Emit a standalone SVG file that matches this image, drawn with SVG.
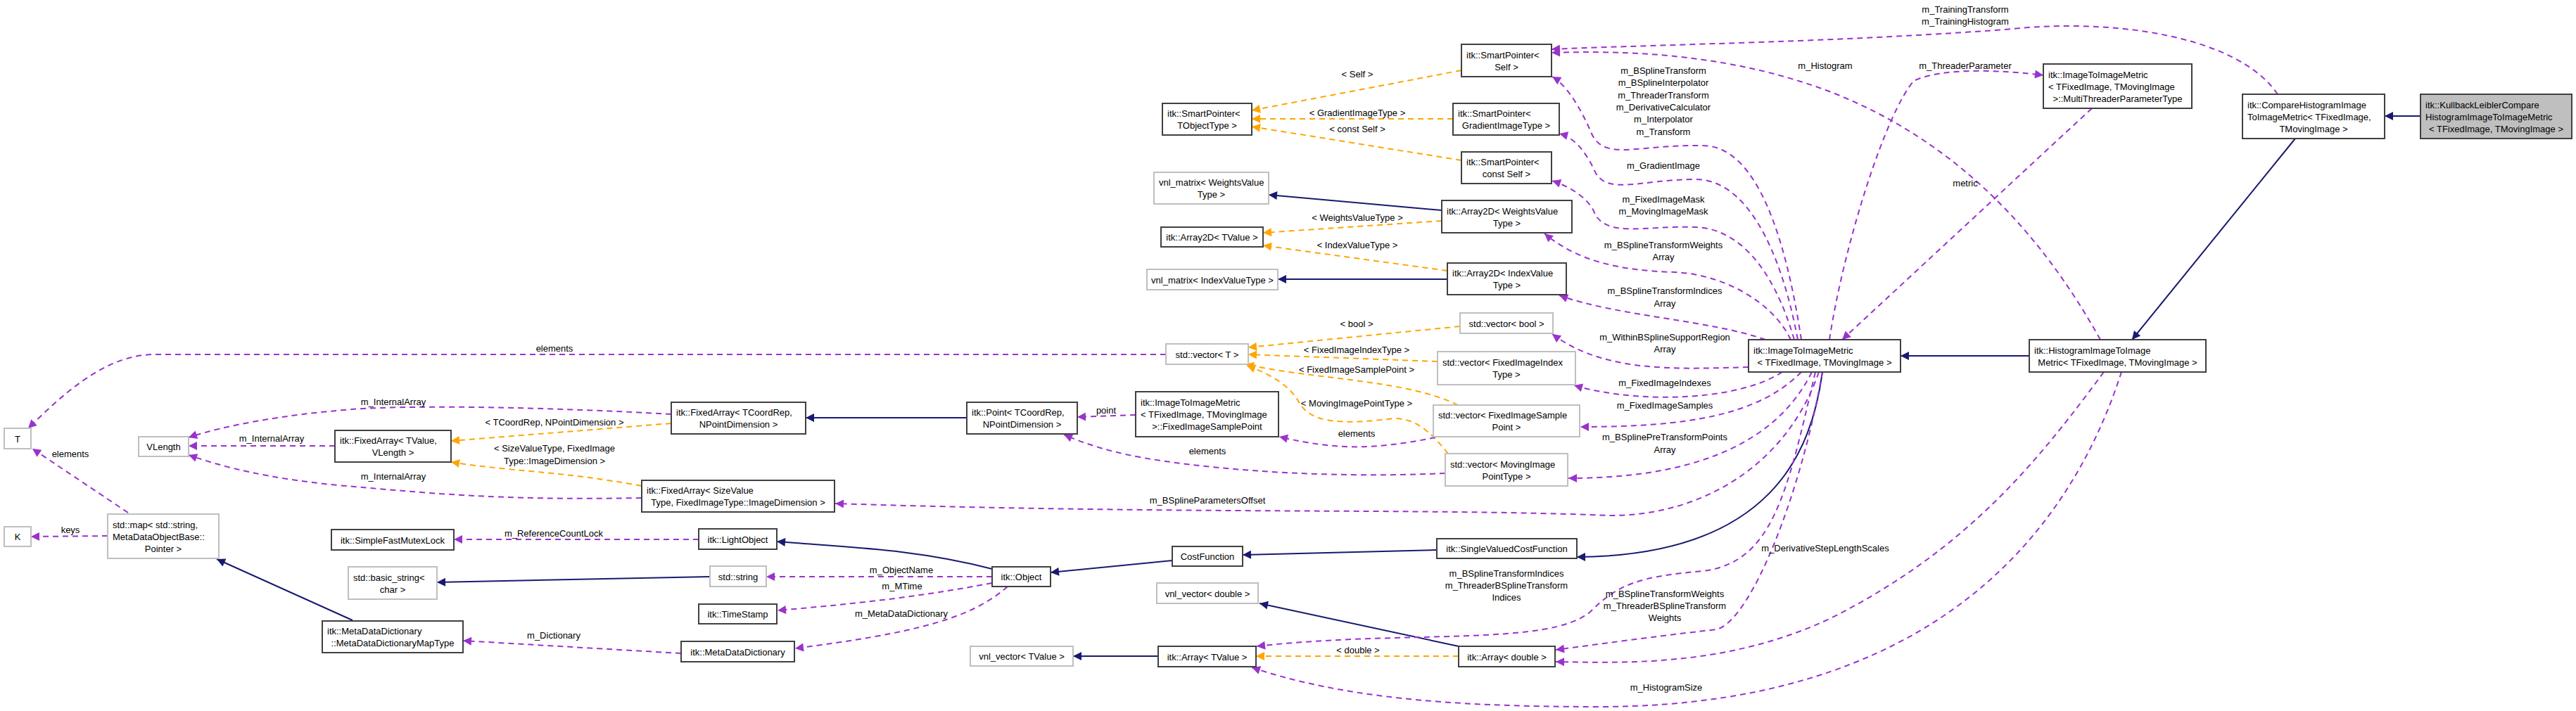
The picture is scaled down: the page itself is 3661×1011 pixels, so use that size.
<svg xmlns="http://www.w3.org/2000/svg" width="3661" height="1011" viewBox="0 0 3661 1011">
<style>
text{font-family:"Liberation Sans",Arial,sans-serif;font-size:13px;fill:#000}
.m{text-anchor:middle}
.n rect{fill:#fff;stroke:#404040;stroke-width:2}
.g rect{fill:#fff;stroke:#bfbfbf;stroke-width:2}
.h rect{fill:#bfbfbf;stroke:#404040;stroke-width:2}
.i{fill:none;stroke:#191970;stroke-width:2}
.u{fill:none;stroke:#9a32cd;stroke-width:2;stroke-dasharray:8,6}
.t{fill:none;stroke:#ffa500;stroke-width:2;stroke-dasharray:8,6}
</style>
<defs>
<marker id="ai" viewBox="0 0 10 10" refX="10" refY="5" markerWidth="14" markerHeight="12" markerUnits="userSpaceOnUse" orient="auto"><path d="M0,0L10,5L0,10z" fill="#191970"/></marker>
<marker id="au" viewBox="0 0 10 10" refX="10" refY="5" markerWidth="14" markerHeight="12" markerUnits="userSpaceOnUse" orient="auto"><path d="M0,0L10,5L0,10z" fill="#9a32cd"/></marker>
<marker id="at" viewBox="0 0 10 10" refX="10" refY="5" markerWidth="14" markerHeight="12" markerUnits="userSpaceOnUse" orient="auto"><path d="M0,0L10,5L0,10z" fill="#ffa500"/></marker>
</defs>
<rect width="3661" height="1011" fill="#fff"/>
<g id="edges">
<path class="i" marker-end="url(#ai)" d="M3440,165L3389,165"/>
<path class="i" marker-end="url(#ai)" d="M3262,197L3030,483"/>
<path class="i" marker-end="url(#ai)" d="M2884,506L2701,506"/>
<path class="i" marker-end="url(#ai)" d="M2590,529C2575,640 2520,790 2241,792"/>
<path class="i" marker-end="url(#ai)" d="M2042,782L1766,789"/>
<path class="i" marker-end="url(#ai)" d="M1666,797L1493,814"/>
<path class="i" marker-end="url(#ai)" d="M1410,809C1300,780 1200,778 1104,770"/>
<path class="i" marker-end="url(#ai)" d="M1009,820L621,828"/>
<path class="i" marker-end="url(#ai)" d="M501,882L308,795"/>
<path class="i" marker-end="url(#ai)" d="M1374,594L1145,594"/>
<path class="i" marker-end="url(#ai)" d="M2049,299L1803,277"/>
<path class="i" marker-end="url(#ai)" d="M2057,397L1816,397"/>
<path class="i" marker-end="url(#ai)" d="M2073,919L1790,858"/>
<path class="i" marker-end="url(#ai)" d="M1646,933L1525,933"/>
<path class="t" marker-end="url(#at)" d="M2077,100L1779,157"/>
<path class="t" marker-end="url(#at)" d="M2065,169L1779,169"/>
<path class="t" marker-end="url(#at)" d="M2077,228L1779,180"/>
<path class="t" marker-end="url(#at)" d="M2049,314L1795,331"/>
<path class="t" marker-end="url(#at)" d="M2057,385L1795,349"/>
<path class="t" marker-end="url(#at)" d="M2075,464L1774,494"/>
<path class="t" marker-end="url(#at)" d="M2043,514L1774,504"/>
<path class="t" marker-end="url(#at)" d="M2072,576C2000,540 1870,540 1770,518"/>
<path class="t" marker-end="url(#at)" d="M2058,645C2030,610 2010,595 1980,595C1900,605 1860,600 1845,570C1830,545 1800,530 1772,520"/>
<path class="t" marker-end="url(#at)" d="M954,602L641,627"/>
<path class="t" marker-end="url(#at)" d="M912,691C800,670 720,670 641,657"/>
<path class="t" marker-end="url(#at)" d="M2073,933L1785,933"/>
<path class="u" marker-end="url(#au)" d="M3237,134C3180,50 3000,25 2850,42C2600,60 2400,62 2205,70"/>
<path class="u" marker-end="url(#au)" d="M2985,483C2900,330 2780,200 2600,130C2480,85 2350,70 2205,75"/>
<path class="u" marker-end="url(#au)" d="M2560,483C2540,350 2500,207 2420,207C2330,205 2280,230 2262,190C2245,150 2225,120 2206,109"/>
<path class="u" marker-end="url(#au)" d="M2555,483C2530,350 2480,255 2410,255C2330,255 2280,280 2265,240C2250,210 2235,195 2216,190"/>
<path class="u" marker-end="url(#au)" d="M2550,483C2520,380 2470,325 2410,323C2340,320 2280,340 2265,300C2255,280 2230,265 2206,257"/>
<path class="u" marker-end="url(#au)" d="M2545,483C2520,430 2450,390 2380,387C2300,385 2240,370 2195,332"/>
<path class="u" marker-end="url(#au)" d="M2509,483C2430,455 2300,450 2216,420"/>
<path class="u" marker-end="url(#au)" d="M2485,522C2380,525 2280,530 2206,475"/>
<path class="u" marker-end="url(#au)" d="M2533,529C2470,570 2330,575 2237,548"/>
<path class="u" marker-end="url(#au)" d="M2560,529C2500,590 2400,607 2246,607"/>
<path class="u" marker-end="url(#au)" d="M2575,529C2520,640 2390,680 2229,680"/>
<path class="u" marker-end="url(#au)" d="M2585,529C2540,660 2420,733 2290,733C2000,722 1700,732 1187,716"/>
<path class="u" marker-end="url(#au)" d="M2580,529C2540,700 2520,800 2420,812C2330,820 2300,830 2260,870C2200,920 2000,895 1786,919"/>
<path class="u" marker-end="url(#au)" d="M2590,529C2560,700 2490,880 2440,895C2350,905 2280,915 2211,924"/>
<path class="u" marker-end="url(#au)" d="M2990,529C2900,650 2800,780 2600,880C2450,950 2300,942 2211,941"/>
<path class="u" marker-end="url(#au)" d="M3015,529C2960,700 2800,1005 2270,1005C2050,1005 1900,990 1779,949"/>
<path class="u" marker-end="url(#au)" d="M2973,154L2618,483"/>
<path class="u" marker-end="url(#au)" d="M2600,483C2620,350 2680,160 2720,115C2760,95 2850,100 2904,107"/>
<path class="u" marker-end="url(#au)" d="M1657,504L220,504C150,504 90,560 40,609"/>
<path class="u" marker-end="url(#au)" d="M182,729L46,638"/>
<path class="u" marker-end="url(#au)" d="M153,762L44,763"/>
<path class="u" marker-end="url(#au)" d="M954,589C800,580 600,575 500,582C400,590 320,605 268,622"/>
<path class="u" marker-end="url(#au)" d="M476,634L268,634"/>
<path class="u" marker-end="url(#au)" d="M912,708C700,712 600,700 480,690C380,680 320,665 268,647"/>
<path class="u" marker-end="url(#au)" d="M993,767L645,767"/>
<path class="u" marker-end="url(#au)" d="M1410,820L1089,820"/>
<path class="u" marker-end="url(#au)" d="M1410,829C1300,850 1200,860 1105,868"/>
<path class="u" marker-end="url(#au)" d="M1432,834C1380,880 1300,900 1130,922"/>
<path class="u" marker-end="url(#au)" d="M968,929L658,911"/>
<path class="u" marker-end="url(#au)" d="M1614,590L1531,593"/>
<path class="u" marker-end="url(#au)" d="M2040,622C1950,640 1900,640 1818,621"/>
<path class="u" marker-end="url(#au)" d="M2054,673C1900,680 1750,670 1650,655C1580,645 1540,630 1512,618"/>
<text class="m" x="2793" y="18">m_TrainingTransform</text>
<text class="m" x="2793" y="35">m_TrainingHistogram</text>
<text class="m" x="2594" y="98">m_Histogram</text>
<text class="m" x="2793" y="98">m_ThreaderParameter</text>
<text class="m" x="2793" y="265">metric</text>
<text class="m" x="1929" y="110">&lt; Self &gt;</text>
<text class="m" x="1929" y="165">&lt; GradientImageType &gt;</text>
<text class="m" x="1929" y="188">&lt; const Self &gt;</text>
<text class="m" x="1929" y="314">&lt; WeightsValueType &gt;</text>
<text class="m" x="1929" y="353">&lt; IndexValueType &gt;</text>
<text class="m" x="2364" y="105">m_BSplineTransform</text>
<text class="m" x="2364" y="122">m_BSplineInterpolator</text>
<text class="m" x="2364" y="140">m_ThreaderTransform</text>
<text class="m" x="2364" y="157">m_DerivativeCalculator</text>
<text class="m" x="2364" y="174">m_Interpolator</text>
<text class="m" x="2364" y="192">m_Transform</text>
<text class="m" x="2364" y="240">m_GradientImage</text>
<text class="m" x="2364" y="288">m_FixedImageMask</text>
<text class="m" x="2364" y="305">m_MovingImageMask</text>
<text class="m" x="2364" y="353">m_BSplineTransformWeights</text>
<text class="m" x="2364" y="370">Array</text>
<text class="m" x="2366" y="418">m_BSplineTransformIndices</text>
<text class="m" x="2366" y="436">Array</text>
<text class="m" x="2366" y="484">m_WithinBSplineSupportRegion</text>
<text class="m" x="2366" y="501">Array</text>
<text class="m" x="2366" y="549">m_FixedImageIndexes</text>
<text class="m" x="2366" y="581">m_FixedImageSamples</text>
<text class="m" x="2366" y="626">m_BSplinePreTransformPoints</text>
<text class="m" x="2366" y="644">Array</text>
<text class="m" x="1928" y="465">&lt; bool &gt;</text>
<text class="m" x="1928" y="502">&lt; FixedImageIndexType &gt;</text>
<text class="m" x="1928" y="530">&lt; FixedImageSamplePoint &gt;</text>
<text class="m" x="1928" y="578">&lt; MovingImagePointType &gt;</text>
<text class="m" x="1928" y="621">elements</text>
<text class="m" x="1716" y="646">elements</text>
<text class="m" x="1572" y="588">point</text>
<text class="m" x="1716" y="716">m_BSplineParametersOffset</text>
<text class="m" x="788" y="500">elements</text>
<text class="m" x="788" y="605">&lt; TCoordRep, NPointDimension &gt;</text>
<text class="m" x="788" y="642">&lt; SizeValueType, FixedImage</text>
<text class="m" x="788" y="660">Type::ImageDimension &gt;</text>
<text class="m" x="559" y="576">m_InternalArray</text>
<text class="m" x="386" y="628">m_InternalArray</text>
<text class="m" x="559" y="682">m_InternalArray</text>
<text class="m" x="100" y="650">elements</text>
<text class="m" x="100" y="758">keys</text>
<text class="m" x="787" y="763">m_ReferenceCountLock</text>
<text class="m" x="787" y="908">m_Dictionary</text>
<text class="m" x="1281" y="815">m_ObjectName</text>
<text class="m" x="1282" y="838">m_MTime</text>
<text class="m" x="1281" y="877">m_MetaDataDictionary</text>
<text class="m" x="2594" y="784">m_DerivativeStepLengthScales</text>
<text class="m" x="2141" y="820">m_BSplineTransformIndices</text>
<text class="m" x="2141" y="837">m_ThreaderBSplineTransform</text>
<text class="m" x="2141" y="854">Indices</text>
<text class="m" x="2366" y="849">m_BSplineTransformWeights</text>
<text class="m" x="2366" y="866">m_ThreaderBSplineTransform</text>
<text class="m" x="2366" y="883">Weights</text>
<text class="m" x="1930" y="929">&lt; double &gt;</text>
<text class="m" x="2368" y="982">m_HistogramSize</text>
</g>
<g id="T" class="g"><rect x="6" y="609" width="38" height="29"/><text class="m" x="25" y="628.5">T</text></g>
<g id="K" class="g"><rect x="6" y="749" width="38" height="28"/><text class="m" x="25" y="768">K</text></g>
<g id="VLength" class="g"><rect x="197" y="621" width="71" height="28"/><text class="m" x="232.5" y="640">VLength</text></g>
<g id="FA_TValue" class="n"><rect x="476" y="612" width="165" height="45"/><text x="483" y="631">itk::FixedArray&lt; TValue,</text><text class="m" x="558.5" y="648">VLength &gt;</text></g>
<g id="FA_Coord" class="n"><rect x="954" y="572" width="191" height="45"/><text x="961" y="591">itk::FixedArray&lt; TCoordRep,</text><text class="m" x="1049.5" y="608">NPointDimension &gt;</text></g>
<g id="FA_Size" class="n"><rect x="912" y="683" width="274" height="45"/><text x="919" y="702">itk::FixedArray&lt; SizeValue</text><text class="m" x="1049" y="719">Type, FixedImageType::ImageDimension &gt;</text></g>
<g id="Point" class="n"><rect x="1374" y="572" width="157" height="45"/><text x="1381" y="591">itk::Point&lt; TCoordRep,</text><text class="m" x="1452.5" y="608">NPointDimension &gt;</text></g>
<g id="FISP" class="n"><rect x="1614" y="557" width="203" height="64"/><text x="1621" y="577">itk::ImageToImageMetric</text><text x="1621" y="594">&lt; TFixedImage, TMovingImage</text><text class="m" x="1715.5" y="611">&gt;::FixedImageSamplePoint</text></g>
<g id="vecT" class="g"><rect x="1657" y="489" width="117" height="29"/><text class="m" x="1715.5" y="508.5">std::vector&lt; T &gt;</text></g>
<g id="vecBool" class="g"><rect x="2075" y="445" width="132" height="29"/><text class="m" x="2141" y="464.5">std::vector&lt; bool &gt;</text></g>
<g id="vecFII" class="g"><rect x="2043" y="500" width="196" height="47"/><text x="2050" y="520">std::vector&lt; FixedImageIndex</text><text class="m" x="2141" y="537">Type &gt;</text></g>
<g id="vecFISP" class="g"><rect x="2037" y="576" width="208" height="45"/><text x="2044" y="595">std::vector&lt; FixedImageSample</text><text class="m" x="2141" y="612">Point &gt;</text></g>
<g id="vecMIP" class="g"><rect x="2054" y="645" width="174" height="46"/><text x="2061" y="664.5">std::vector&lt; MovingImage</text><text class="m" x="2141" y="681.5">PointType &gt;</text></g>
<g id="stdmap" class="g"><rect x="153" y="731" width="158" height="63"/><text x="160" y="750.5">std::map&lt; std::string,</text><text x="160" y="767.5">MetaDataObjectBase::</text><text class="m" x="232" y="784.5">Pointer &gt;</text></g>
<g id="Mutex" class="n"><rect x="471" y="753" width="174" height="29"/><text class="m" x="558" y="772.5">itk::SimpleFastMutexLock</text></g>
<g id="LightObject" class="n"><rect x="993" y="752" width="111" height="29"/><text class="m" x="1048.5" y="771.5">itk::LightObject</text></g>
<g id="basicstring" class="g"><rect x="495" y="806" width="126" height="46"/><text x="502" y="825.5">std::basic_string&lt;</text><text class="m" x="558" y="842.5">char &gt;</text></g>
<g id="stdstring" class="g"><rect x="1009" y="805" width="80" height="29"/><text class="m" x="1049" y="824.5">std::string</text></g>
<g id="TimeStamp" class="n"><rect x="993" y="859" width="111" height="28"/><text class="m" x="1048.5" y="878">itk::TimeStamp</text></g>
<g id="MapType" class="n"><rect x="458" y="883" width="200" height="45"/><text x="465" y="902">itk::MetaDataDictionary</text><text class="m" x="558" y="919">::MetaDataDictionaryMapType</text></g>
<g id="MDD" class="n"><rect x="968" y="912" width="161" height="29"/><text class="m" x="1048.5" y="931.5">itk::MetaDataDictionary</text></g>
<g id="Object" class="n"><rect x="1410" y="806" width="83" height="28"/><text class="m" x="1451.5" y="825">itk::Object</text></g>
<g id="CostFunction" class="n"><rect x="1666" y="777" width="100" height="28"/><text class="m" x="1716" y="796">CostFunction</text></g>
<g id="SVCF" class="n"><rect x="2042" y="766" width="199" height="28"/><text class="m" x="2141.5" y="785">itk::SingleValuedCostFunction</text></g>
<g id="vnlvecD" class="g"><rect x="1644" y="829" width="144" height="29"/><text class="m" x="1716" y="848.5">vnl_vector&lt; double &gt;</text></g>
<g id="vnlvecT" class="g"><rect x="1379" y="919" width="146" height="28"/><text class="m" x="1452" y="938">vnl_vector&lt; TValue &gt;</text></g>
<g id="ArrayT" class="n"><rect x="1646" y="919" width="139" height="29"/><text class="m" x="1715.5" y="938.5">itk::Array&lt; TValue &gt;</text></g>
<g id="ArrayD" class="n"><rect x="2073" y="919" width="137" height="29"/><text class="m" x="2141.5" y="938.5">itk::Array&lt; double &gt;</text></g>
<g id="SP_TObj" class="n"><rect x="1652" y="147" width="127" height="45"/><text x="1659" y="166">itk::SmartPointer&lt;</text><text class="m" x="1715.5" y="183">TObjectType &gt;</text></g>
<g id="SP_Self" class="n"><rect x="2077" y="63" width="128" height="46"/><text x="2084" y="82.5">itk::SmartPointer&lt;</text><text class="m" x="2141" y="99.5">Self &gt;</text></g>
<g id="SP_Grad" class="n"><rect x="2065" y="147" width="151" height="45"/><text x="2072" y="166">itk::SmartPointer&lt;</text><text class="m" x="2140.5" y="183">GradientImageType &gt;</text></g>
<g id="SP_const" class="n"><rect x="2077" y="216" width="128" height="45"/><text x="2084" y="235">itk::SmartPointer&lt;</text><text class="m" x="2141" y="252">const Self &gt;</text></g>
<g id="vnlmW" class="g"><rect x="1640" y="245" width="163" height="45"/><text x="1647" y="264">vnl_matrix&lt; WeightsValue</text><text class="m" x="1721.5" y="281">Type &gt;</text></g>
<g id="A2D_T" class="n"><rect x="1650" y="323" width="145" height="28"/><text class="m" x="1722.5" y="342">itk::Array2D&lt; TValue &gt;</text></g>
<g id="A2D_W" class="n"><rect x="2049" y="285" width="185" height="46"/><text x="2056" y="304.5">itk::Array2D&lt; WeightsValue</text><text class="m" x="2141.5" y="321.5">Type &gt;</text></g>
<g id="vnlmI" class="g"><rect x="1630" y="383" width="186" height="29"/><text class="m" x="1723" y="402.5">vnl_matrix&lt; IndexValueType &gt;</text></g>
<g id="A2D_I" class="n"><rect x="2057" y="374" width="169" height="45"/><text x="2064" y="393">itk::Array2D&lt; IndexValue</text><text class="m" x="2141.5" y="410">Type &gt;</text></g>
<g id="ITIM" class="n"><rect x="2485" y="483" width="216" height="46"/><text x="2492" y="502.5">itk::ImageToImageMetric</text><text class="m" x="2593" y="519.5">&lt; TFixedImage, TMovingImage &gt;</text></g>
<g id="Hist" class="n"><rect x="2884" y="483" width="251" height="46"/><text x="2891" y="502.5">itk::HistogramImageToImage</text><text class="m" x="3009.5" y="519.5">Metric&lt; TFixedImage, TMovingImage &gt;</text></g>
<g id="MTP" class="n"><rect x="2904" y="91" width="211" height="63"/><text x="2911" y="110.5">itk::ImageToImageMetric</text><text x="2911" y="127.5">&lt; TFixedImage, TMovingImage</text><text class="m" x="3009.5" y="144.5">&gt;::MultiThreaderParameterType</text></g>
<g id="CHI" class="n"><rect x="3187" y="134" width="202" height="63"/><text x="3194" y="153.5">itk::CompareHistogramImage</text><text x="3194" y="170.5">ToImageMetric&lt; TFixedImage,</text><text class="m" x="3288" y="187.5">TMovingImage &gt;</text></g>
<g id="KL" class="h"><rect x="3440" y="134" width="215" height="63"/><text x="3447" y="153.5">itk::KullbackLeiblerCompare</text><text x="3447" y="170.5">HistogramImageToImageMetric</text><text class="m" x="3547.5" y="187.5">&lt; TFixedImage, TMovingImage &gt;</text></g>
</svg>
